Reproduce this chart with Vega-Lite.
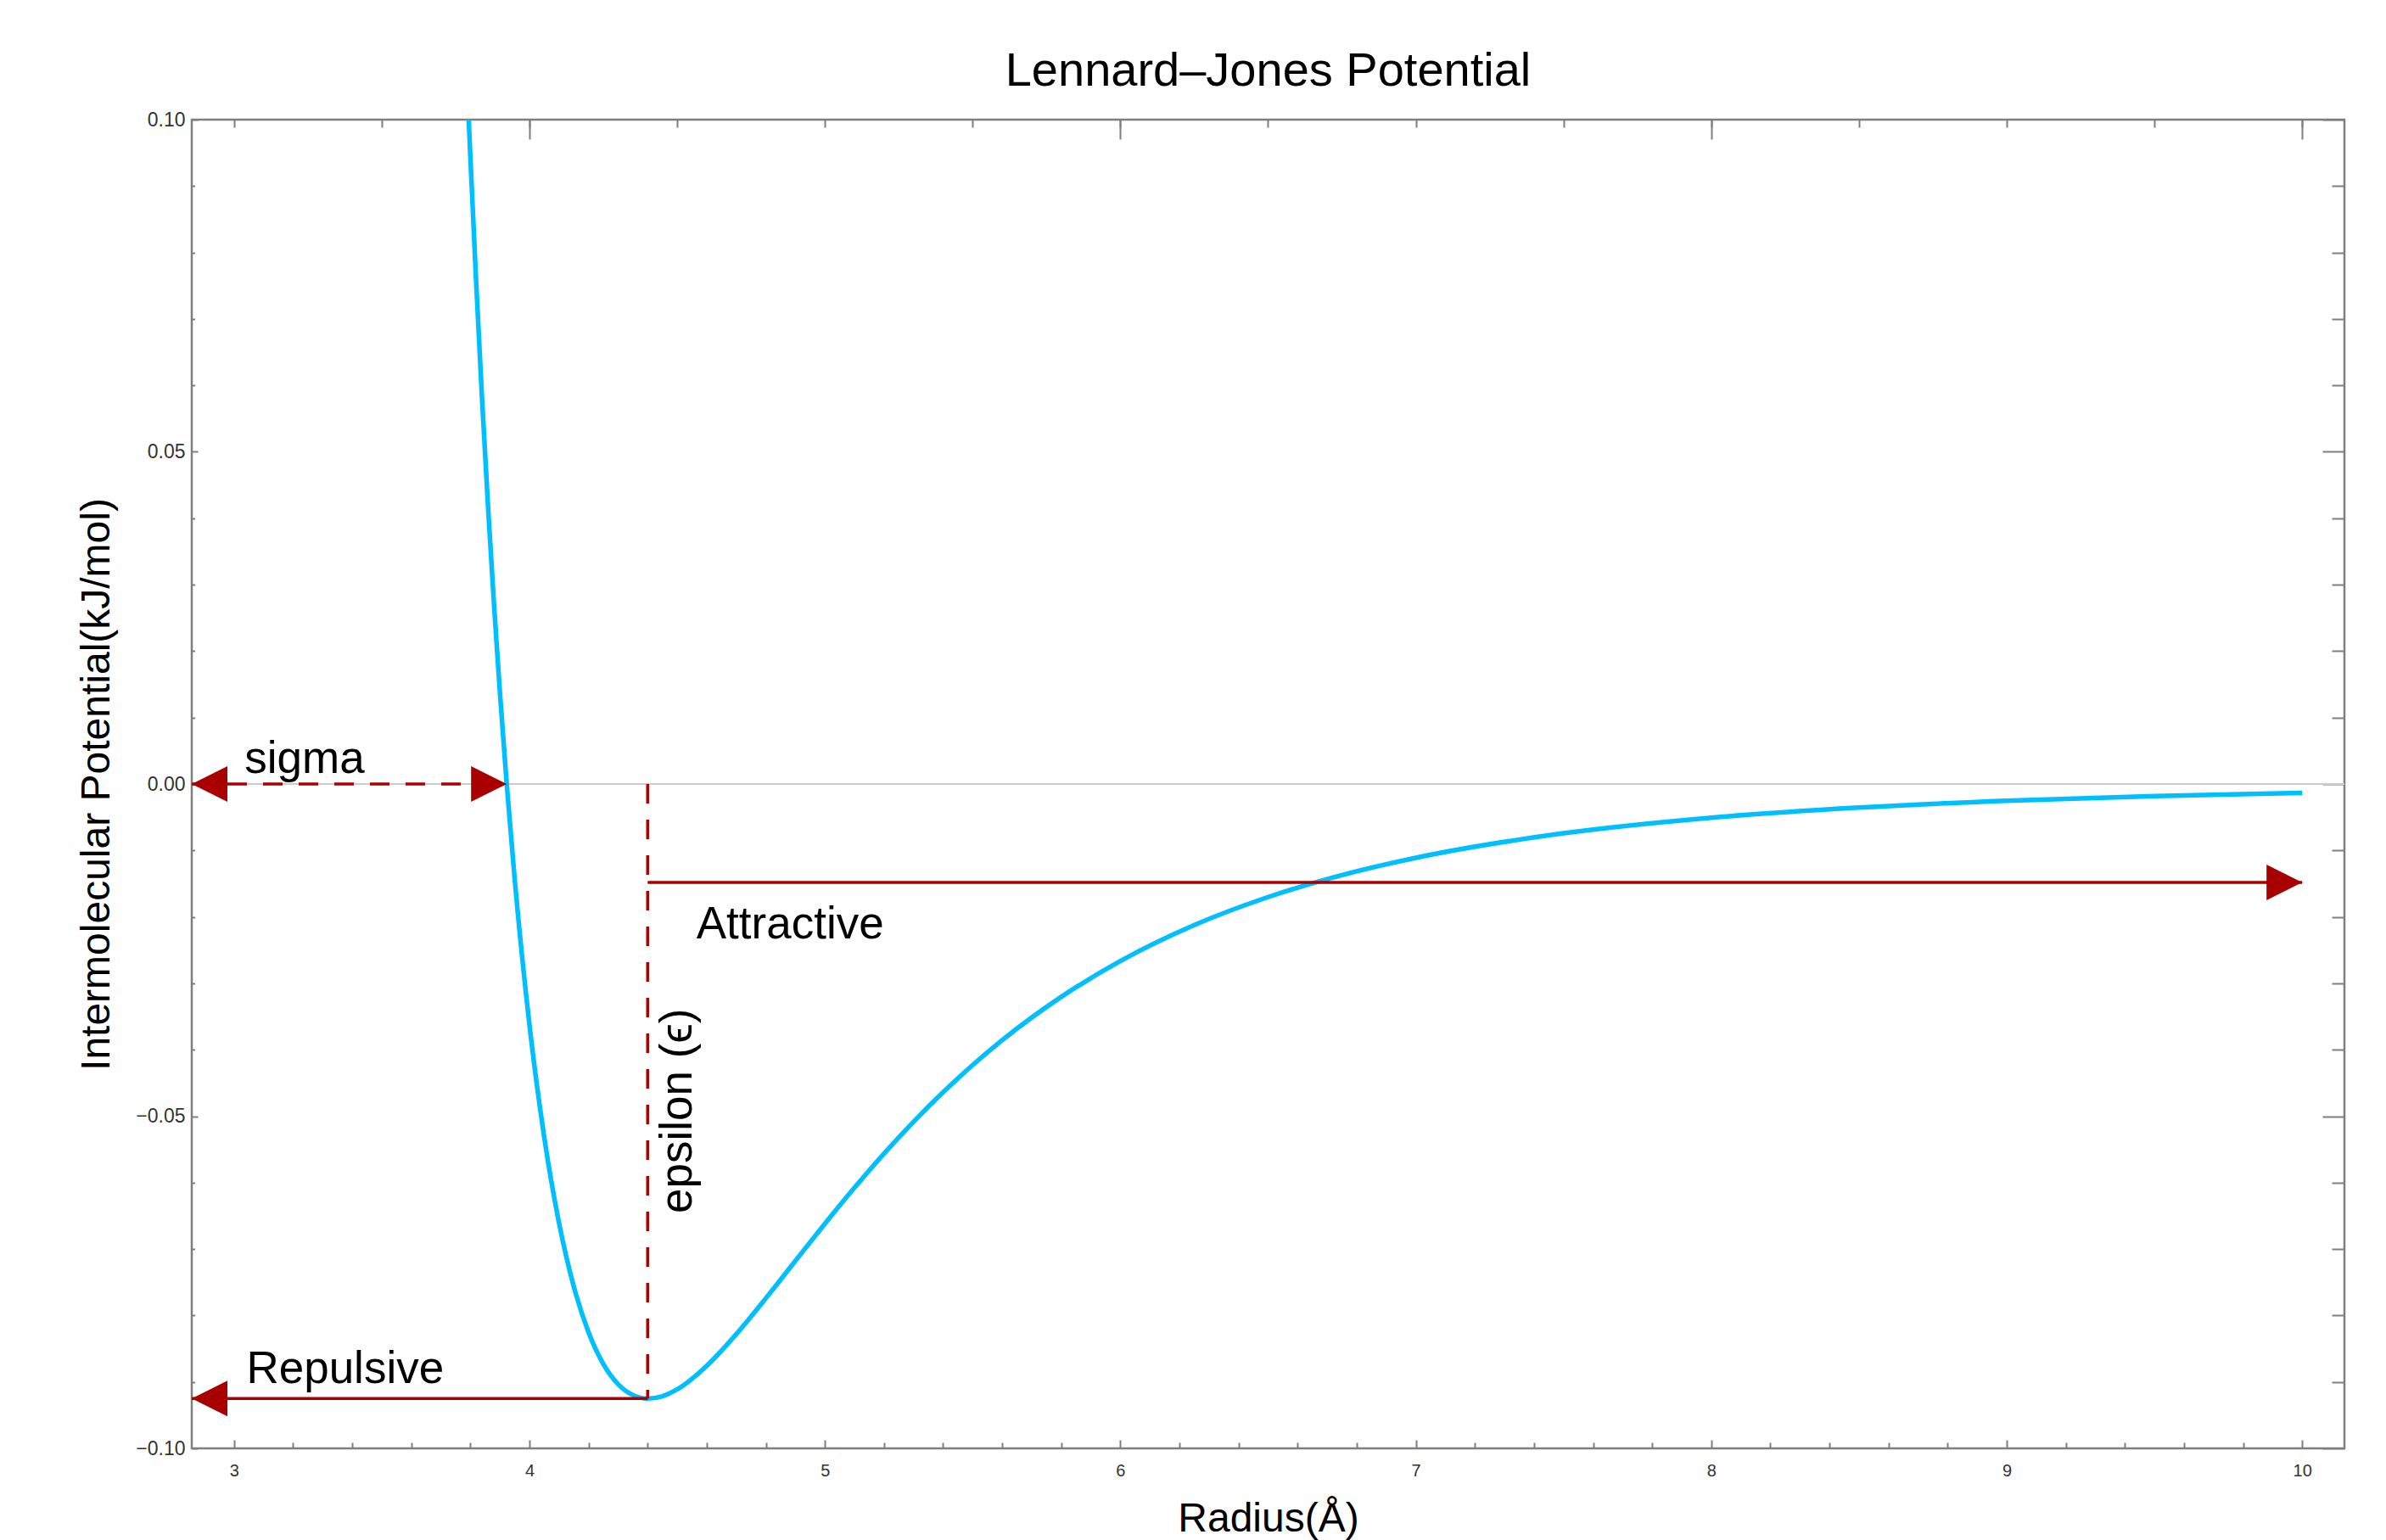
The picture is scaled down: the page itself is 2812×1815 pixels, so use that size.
{
  "$schema": "https://vega.github.io/schema/vega-lite/v6.json",
  "width": 2537,
  "height": 1566,
  "autosize": {"type": "none"},
  "padding": {"left": 226, "top": 141, "right": 49, "bottom": 108},
  "background": "#ffffff",
  "config": {
    "view": {"stroke": "#7f7f7f", "strokeWidth": 2.5},
    "axis": {"grid": false, "domain": false, "tickColor": "#7f7f7f", "tickWidth": 2, "labelFlush": false, "labelOverlap": false, "labelBound": false, "labelFont": "Liberation Sans", "labelColor": "#333333", "titleFont": "Liberation Sans", "titleFontWeight": "normal", "titleColor": "#000000"}
  },
  "title": {"text": "Lennard–Jones Potential", "fontSize": 56, "font": "Liberation Sans", "fontWeight": "normal", "color": "#000000", "anchor": "middle", "frame": "group", "baseline": "bottom", "offset": -39},
  "datasets": {
    "curve": [
      {"r": 3.79, "V": 0.1046}, {"r": 3.80, "V": 0.09435}, {"r": 3.82, "V": 0.07513}, {"r": 3.84, "V": 0.05759},
      {"r": 3.86, "V": 0.04160}, {"r": 3.88, "V": 0.02703}, {"r": 3.90, "V": 0.01376}, {"r": 3.923, "V": 0.0},
      {"r": 3.95, "V": -0.01432}, {"r": 4.0, "V": -0.03625}, {"r": 4.05, "V": -0.05318}, {"r": 4.1, "V": -0.06605},
      {"r": 4.15, "V": -0.07563}, {"r": 4.2, "V": -0.08254}, {"r": 4.25, "V": -0.08730}, {"r": 4.3, "V": -0.09033},
      {"r": 4.35, "V": -0.09197}, {"r": 4.4, "V": -0.09250}, {"r": 4.45, "V": -0.09215}, {"r": 4.5, "V": -0.09112},
      {"r": 4.6, "V": -0.08758}, {"r": 4.7, "V": -0.08281}, {"r": 4.8, "V": -0.07741}, {"r": 4.9, "V": -0.07178},
      {"r": 5.0, "V": -0.06618}, {"r": 5.1, "V": -0.06077}, {"r": 5.2, "V": -0.05564}, {"r": 5.3, "V": -0.05084},
      {"r": 5.4, "V": -0.04640}, {"r": 5.5, "V": -0.04231}, {"r": 5.6, "V": -0.03856}, {"r": 5.8, "V": -0.03204},
      {"r": 6.0, "V": -0.02665}, {"r": 6.25, "V": -0.02124}, {"r": 6.5, "V": -0.01702}, {"r": 6.75, "V": -0.01371},
      {"r": 7.0, "V": -0.01111}, {"r": 7.5, "V": -0.00742}, {"r": 8.0, "V": -0.00507}, {"r": 8.5, "V": -0.00354},
      {"r": 9.0, "V": -0.00252}, {"r": 9.5, "V": -0.00183}, {"r": 10.0, "V": -0.00134}
    ],
    "dashed": [
      {"seg": "sigma", "x": 2.857, "y": 0}, {"seg": "sigma", "x": 3.923, "y": 0},
      {"seg": "epsilon", "x": 4.4, "y": 0}, {"seg": "epsilon", "x": 4.4, "y": -0.0925}
    ],
    "arrows": [
      {"seg": "repulsive", "x": 2.857, "y": -0.0925}, {"seg": "repulsive", "x": 4.4, "y": -0.0925},
      {"seg": "attractive", "x": 4.4, "y": -0.0148}, {"seg": "attractive", "x": 10, "y": -0.0148}
    ],
    "heads": [
      {"x": 2.857, "y": 0, "dir": "left"}, {"x": 3.923, "y": 0, "dir": "right"},
      {"x": 2.857, "y": -0.0925, "dir": "left"}, {"x": 10, "y": -0.0148, "dir": "right"}
    ],
    "labels": [
      {"label": "sigma", "x": 3.036, "y": 0.0016},
      {"label": "Repulsive", "x": 3.042, "y": -0.0902},
      {"label": "Attractive", "x": 4.565, "y": -0.0232}
    ],
    "vlabels": [
      {"label": "epsilon (ϵ)", "x": 4.549, "y": -0.0492}
    ]
  },
  "resolve": {"axis": {"x": "independent", "y": "independent"}},
  "layer": [
    {
      "data": {"values": [{"z": 0}]},
      "mark": {"type": "rule", "color": "#cccccc", "strokeWidth": 2},
      "encoding": {
        "y": {"field": "z", "type": "quantitative", "scale": {"domain": [-0.1, 0.1], "nice": false, "zero": false}, "axis": null}
      }
    },
    {
      "data": {"name": "curve"},
      "mark": {"type": "line", "color": "#00bfff", "strokeWidth": 5.5, "clip": true, "interpolate": "monotone"},
      "encoding": {
        "x": {"field": "r", "type": "quantitative", "scale": {"domain": [2.857, 10.143], "nice": false, "zero": false},
          "axis": {"orient": "bottom", "values": [3, 4, 5, 6, 7, 8, 9, 10], "format": "d", "tickSize": -10, "labelPadding": 26, "labelFontSize": 20, "title": "Radius(Å)", "titleFontSize": 48, "titlePadding": 23}},
        "y": {"field": "V", "type": "quantitative", "scale": {"domain": [-0.1, 0.1], "nice": false, "zero": false},
          "axis": {"orient": "left", "values": [-0.1, -0.05, 0, 0.05, 0.1], "format": ".2f", "tickSize": -7, "labelPadding": 15, "labelFontSize": 23, "title": "Intermolecular Potential(kJ/mol)", "titleFontSize": 48, "titlePadding": 21}}
      }
    },
    {
      "data": {"name": "dashed"},
      "mark": {"type": "line", "color": "#aa0000", "strokeWidth": 3.5, "strokeDash": [23, 19]},
      "encoding": {
        "x": {"field": "x", "type": "quantitative",
          "axis": {"orient": "bottom", "values": [3.2, 3.4, 3.6, 3.8, 4.2, 4.4, 4.6, 4.8, 5.2, 5.4, 5.6, 5.8, 6.2, 6.4, 6.6, 6.8, 7.2, 7.4, 7.6, 7.8, 8.2, 8.4, 8.6, 8.8, 9.2, 9.4, 9.6, 9.8], "tickSize": -7, "labels": false, "title": null}},
        "y": {"field": "y", "type": "quantitative",
          "axis": {"orient": "left", "values": [-0.09, -0.08, -0.07, -0.06, -0.04, -0.03, -0.02, -0.01, 0.01, 0.02, 0.03, 0.04, 0.06, 0.07, 0.08, 0.09], "tickSize": -3.5, "labels": false, "title": null}},
        "detail": {"field": "seg", "type": "nominal"}
      }
    },
    {
      "data": {"name": "arrows"},
      "mark": {"type": "line", "color": "#aa0000", "strokeWidth": 3.5},
      "encoding": {
        "x": {"field": "x", "type": "quantitative",
          "axis": {"orient": "top", "values": [3, 3.5, 4, 4.5, 5, 5.5, 6, 6.5, 7, 7.5, 8, 8.5, 9, 9.5, 10], "tickSize": -9, "labels": false, "title": null}},
        "y": {"field": "y", "type": "quantitative",
          "axis": {"orient": "right", "values": [-0.09, -0.08, -0.07, -0.06, -0.04, -0.03, -0.02, -0.01, 0.01, 0.02, 0.03, 0.04, 0.06, 0.07, 0.08, 0.09], "tickSize": -15, "labels": false, "title": null}},
        "detail": {"field": "seg", "type": "nominal"}
      }
    },
    {
      "data": {"name": "heads"},
      "mark": {"type": "point", "filled": true, "color": "#a80000", "opacity": 1, "size": 1764, "strokeWidth": 0},
      "encoding": {
        "x": {"field": "x", "type": "quantitative",
          "axis": {"orient": "top", "values": [4, 6, 8, 10], "tickSize": -23, "labels": false, "title": null}},
        "y": {"field": "y", "type": "quantitative",
          "axis": {"orient": "right", "values": [-0.1, -0.05, 0, 0.05, 0.1], "tickSize": -26, "labels": false, "title": null}},
        "shape": {"field": "dir", "type": "nominal", "scale": {"domain": ["left", "right"], "range": ["M0,0L2,-1L2,1Z", "M0,0L-2,-1L-2,1Z"]}, "legend": null}
      }
    },
    {
      "data": {"name": "labels"},
      "mark": {"type": "text", "align": "left", "baseline": "alphabetic", "fontSize": 53, "font": "Liberation Sans", "color": "#000000"},
      "encoding": {
        "x": {"field": "x", "type": "quantitative", "axis": null},
        "y": {"field": "y", "type": "quantitative", "axis": null},
        "text": {"field": "label", "type": "nominal"}
      }
    },
    {
      "data": {"name": "vlabels"},
      "mark": {"type": "text", "align": "center", "baseline": "alphabetic", "angle": 270, "fontSize": 53, "font": "Liberation Sans", "color": "#000000"},
      "encoding": {
        "x": {"field": "x", "type": "quantitative", "axis": null},
        "y": {"field": "y", "type": "quantitative", "axis": null},
        "text": {"field": "label", "type": "nominal"}
      }
    }
  ]
}
